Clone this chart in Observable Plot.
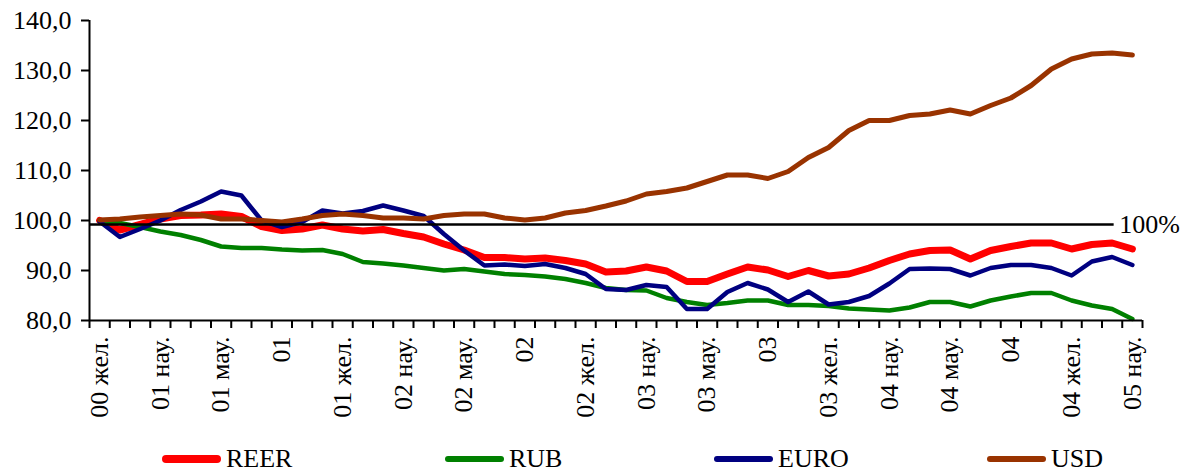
<!DOCTYPE html>
<html><head><meta charset="utf-8">
<script src="https://cdn.jsdelivr.net/npm/d3@7"></script>
<script src="https://cdn.jsdelivr.net/npm/@observablehq/plot@0.6"></script>
<style>
body{margin:0;background:#fff;font:26px 'Liberation Serif';color:#000;}
svg, svg text{font-family:'Liberation Serif' !important;}
#legend{position:relative;height:36px;width:1192px;}
.item{position:absolute;top:0;display:flex;align-items:center;font:26px 'Liberation Serif';height:38px;}
.sw{display:inline-block;width:59px;border-radius:4px;margin-right:5px;}
</style></head><body><div id="chart"></div><div id="legend"></div>
<script>
// Month tick labels (every 3rd month, Dec 2000 .. Mar 2005)
const tickLabels = ["00 жел.","01 нау.","01 мау.","01","01 жел.","02 нау.","02 мау.","02","02 жел.",
  "03 нау.","03 мау.","03","03 жел.","04 нау.","04 мау.","04","04 жел.","05 нау."];
const labelEvery = 3;
const yTicks = [80,90,100,110,120,130,140];
const refLevel = 99.2;
const refLabel = "100%";

const seriesNames = ["REER","RUB","EURO","USD"];
const REER = [100.0,98.1,99.2,100.3,101.0,101.1,101.3,100.8,98.8,98.0,98.3,99.1,98.3,97.9,98.2,97.4,96.7,95.3,94.1,92.6,
  92.6,92.3,92.5,92.0,91.3,89.7,89.9,90.7,89.9,87.8,87.8,89.3,90.7,90.1,88.8,90.0,88.9,89.3,90.5,92.0,
  93.3,94.0,94.1,92.3,94.0,94.8,95.5,95.5,94.3,95.2,95.5,94.3];
const RUB = [99.9,99.5,98.7,97.8,97.1,96.1,94.8,94.5,94.5,94.2,94.0,94.1,93.3,91.7,91.4,91.0,90.5,90.0,90.3,89.8,
  89.3,89.1,88.8,88.3,87.5,86.5,86.1,86.0,84.5,83.7,83.1,83.5,84.0,84.0,83.1,83.1,82.9,82.4,82.2,82.0,
  82.6,83.7,83.7,82.8,84.0,84.8,85.5,85.5,84.0,83.0,82.3,80.3];
const EURO = [99.8,96.7,98.3,100.0,102.1,103.8,105.8,105.0,100.0,98.7,99.7,102.0,101.4,101.9,103.0,102.0,100.9,97.3,94.0,91.0,
  91.2,90.9,91.3,90.5,89.3,86.3,86.1,87.1,86.7,82.3,82.3,85.7,87.5,86.2,83.7,85.8,83.2,83.7,84.9,87.4,
  90.3,90.4,90.3,89.0,90.5,91.1,91.1,90.5,89.0,91.8,92.7,91.1];
const USD = [100.1,100.3,100.7,101.0,101.3,101.1,100.3,100.3,100.0,99.7,100.3,101.0,101.3,101.0,100.5,100.5,100.3,101.0,101.3,101.3,
  100.5,100.1,100.5,101.5,102.0,102.9,103.9,105.3,105.8,106.5,107.8,109.1,109.1,108.4,109.8,112.6,114.6,118.0,120.0,120.0,
  121.0,121.3,122.1,121.3,123.0,124.5,127.0,130.3,132.3,133.3,133.5,133.1];

const seriesValues = [REER, RUB, EURO, USD];
const colors = ["#ff0000","#008000","#000080","#993300"];
const widths = [7, 4.5, 4.5, 5];
const legendLeft = [162, 445, 714, 987];

const n = REER.length;
const boundaries = d3.range(n + 1).map(i => i - 0.5);
const labelIdx = tickLabels.map((_, k) => k * labelEvery);
const labelOf = new Map(labelIdx.map((v, k) => [v, tickLabels[k]]));
const fmt = v => v.toFixed(1).replace(".", ",");

const lines = seriesValues.map((vals, s) =>
  Plot.lineY(vals, {x: (d, i) => i, y: d => d, stroke: colors[s], strokeWidth: widths[s],
    strokeLinejoin: "round", strokeLinecap: "round"}));

const chart = Plot.plot({
  width: 1192, height: 440,
  marginLeft: 89, marginRight: 50, marginTop: 20, marginBottom: 120,
  style: {fontFamily: "'Liberation Serif'", fontSize: "26px", color: "#000", background: "#fff"},
  x: {type: "linear", domain: [-0.5, n - 0.5]},
  y: {domain: [80, 140]},
  marks: [
    ...lines,
    Plot.ruleY([refLevel], {x1: -0.5, x2: n - 1.9, stroke: "#000", strokeWidth: 2.5}),
    Plot.text([refLabel], {x: n - 1.9, y: refLevel, text: d => d, textAnchor: "start", dx: 5, fontSize: 26, fontFamily: "Liberation Serif"}),
    Plot.ruleX([-0.5], {stroke: "#000", strokeWidth: 2}),
    Plot.ruleY([80], {stroke: "#000", strokeWidth: 2}),
    Plot.axisY({ticks: yTicks, tickFormat: fmt, tickSize: 8, tickPadding: 10, strokeWidth: 2, fontSize: 26, fontFamily: "Liberation Serif", label: null}),
    Plot.axisX({ticks: boundaries, tickFormat: () => "", tickSize: 8, strokeWidth: 2, label: null}),
    Plot.axisX({ticks: labelIdx, tickFormat: i => labelOf.get(i), tickSize: 0, tickPadding: 16, tickRotate: -90, fontSize: 26, fontFamily: "Liberation Serif", label: null})
  ]
});
document.getElementById("chart").appendChild(chart);

const legend = document.getElementById("legend");
seriesNames.forEach((name, s) => {
  const item = document.createElement("div");
  item.className = "item";
  item.style.left = legendLeft[s] + "px";
  const sw = document.createElement("span");
  sw.className = "sw";
  sw.style.background = colors[s];
  sw.style.height = (widths[s] + 1) + "px";
  item.appendChild(sw);
  item.appendChild(document.createTextNode(name));
  legend.appendChild(item);
});
</script></body></html>
